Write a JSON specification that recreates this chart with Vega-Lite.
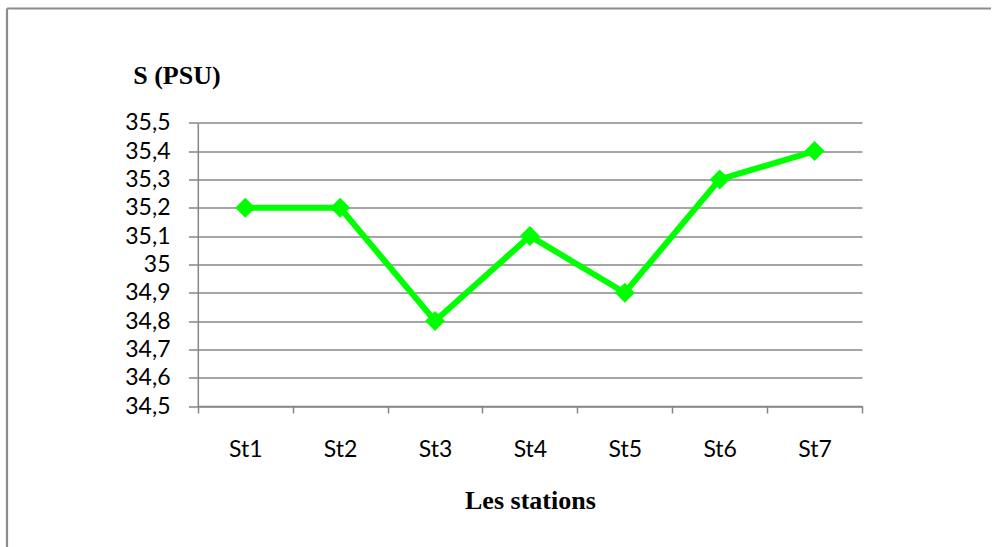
{
  "$schema": "https://vega.github.io/schema/vega-lite/v6.json",
  "width": 985,
  "height": 538.5,
  "autosize": {"type": "none"},
  "padding": {"left": 7, "top": 8.5, "right": 0, "bottom": 0},
  "background": "white",
  "data": {
    "values": [
      {"station": "St1", "S": 35.2},
      {"station": "St2", "S": 35.2},
      {"station": "St3", "S": 34.8},
      {"station": "St4", "S": 35.1},
      {"station": "St5", "S": 34.9},
      {"station": "St6", "S": 35.3},
      {"station": "St7", "S": 35.4}
    ]
  },
  "encoding": {
    "x": {
      "field": "station",
      "type": "nominal",
      "sort": null,
      "scale": {"type": "band", "range": [190.8, 855], "paddingInner": 0, "paddingOuter": 0},
      "axis": {
        "title": "Les stations",
        "offset": -141,
        "tickBand": "extent",
        "tickSize": 7,
        "labelPadding": 25,
        "labelAngle": 0,
        "grid": false,
        "domainColor": "#868686",
        "domainWidth": 1.5,
        "tickColor": "#868686",
        "tickWidth": 1.5,
        "labelFont": "Lato",
        "labelFontSize": 23,
        "labelColor": "black",
        "titleFont": "Liberation Serif",
        "titleFontSize": 26,
        "titleFontWeight": "bold",
        "titleColor": "black",
        "titleY": 102,
        "titleBaseline": "alphabetic"
      }
    },
    "y": {
      "field": "S",
      "type": "quantitative",
      "scale": {"domain": [34.5, 35.5], "range": [397.5, 114.3], "nice": false, "zero": false},
      "axis": {
        "title": "S (PSU)",
        "offset": -190.8,
        "values": [34.5, 34.6, 34.7, 34.8, 34.9, 35, 35.1, 35.2, 35.3, 35.4, 35.5],
        "labelExpr": "replace(replace(format(datum.value, '.1f'), '.0', ''), '.', ',')",
        "tickSize": 9.4,
        "labelPadding": 18.4,
        "domainColor": "#868686",
        "domainWidth": 1.5,
        "tickColor": "#868686",
        "tickWidth": 1.5,
        "grid": true,
        "gridColor": "#888888",
        "gridWidth": 1.4,
        "labelFont": "Lato",
        "labelFontSize": 23,
        "labelColor": "black",
        "titleFont": "Liberation Serif",
        "titleFontSize": 26,
        "titleFontWeight": "bold",
        "titleColor": "black",
        "titleAngle": 0,
        "titleX": -21.4,
        "titleY": 74.8,
        "titleAlign": "center",
        "titleBaseline": "alphabetic"
      }
    }
  },
  "layer": [
    {"mark": {"type": "line", "color": "#00ff00", "strokeWidth": 6}},
    {"mark": {"type": "point", "shape": "diamond", "filled": true, "size": 400, "color": "#00ff00", "opacity": 1}}
  ],
  "config": {
    "view": {"stroke": "#8c8c8c", "strokeWidth": 2.2, "strokeDash": [984, 1524.5, 538.5, 0]}
  }
}
